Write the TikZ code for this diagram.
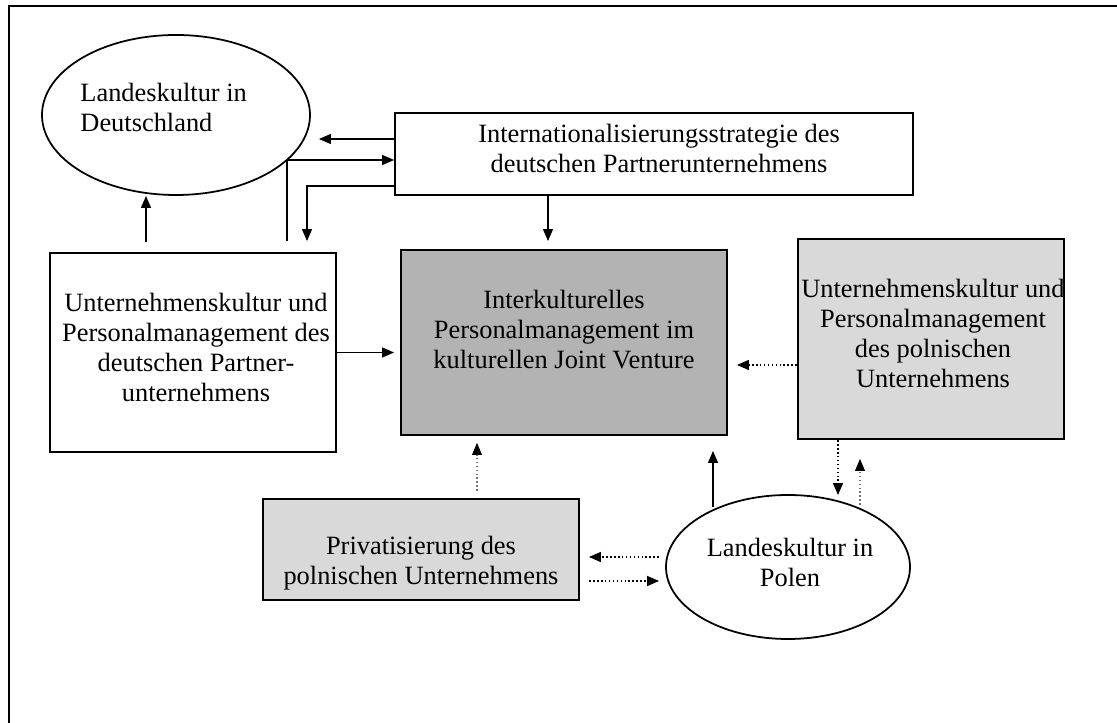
\documentclass[tikz,border=0pt]{standalone}
\usepackage{fontspec}
\setmainfont{Liberation Serif}
\usetikzlibrary{arrows.meta,positioning,shapes.geometric}

\newcommand{\pix}{0.4545pt}
\definecolor{jvgray}{RGB}{179,179,179}
\definecolor{plgray}{RGB}{217,217,217}

\tikzset{
	box/.style = {draw, line width=0.8pt, rectangle, inner sep=0pt},
	kultur/.style = {draw, line width=0.8pt, ellipse, inner sep=0pt},
	txt/.style = {align=center, inner sep=0pt, font=\fontsize{12pt}{13.64pt}\selectfont},
	arr/.style = {line width=0.8pt, -{Triangle[length=5.5pt,width=4.5pt,color=black]}},
	darr/.style = {arr, densely dotted},
	farr/.style = {arr, densely dotted, line width=0.5pt, draw=black!55}
}

\begin{document}
\begin{tikzpicture}[x=\pix, y=-\pix]
			\useasboundingbox (0,0) rectangle (1117,723);
			\draw[line width=0.9pt] (9,723) -- (9,6) -- (1117,6);
			
			\node[kultur, minimum width=268*\pix, minimum height=160*\pix] (deEll) at (176,115) {};
			\node[txt, align=left, anchor=west] (deEllText) at (80,107) {Landeskultur in\\Deutschland};
			
			\node[box, minimum width=518*\pix, minimum height=82*\pix] (intlBox) at (654,154) {};
			\node[txt] (intlText) at (659,148) {Internationalisierungsstrategie des\\deutschen Partnerunternehmens};
			
			\node[box, minimum width=286*\pix, minimum height=199*\pix] (deBox) at (193,352.5) {};
			\node[txt] (deText) at (196,347) {Unternehmenskultur und\\Personalmanagement des\\deutschen Partner-\\unternehmens};
			
			\node[box, fill=jvgray, minimum width=326*\pix, minimum height=185*\pix] (jvBox) at (564,342.5) {};
			\node[txt] (jvText) at (564,330) {Interkulturelles\\Personalmanagement im\\kulturellen Joint Venture};
			
			\node[box, fill=plgray, minimum width=266*\pix, minimum height=200*\pix] (plBox) at (931,339) {};
			\node[txt] (plText) at (933,333) {Unternehmenskultur und\\Personalmanagement\\des polnischen\\Unternehmens};
			
			\node[box, fill=plgray, minimum width=316*\pix, minimum height=101*\pix] (privBox) at (421,549.5) {};
			\node[txt] (privText) at (421,563) {Privatisierung des\\polnischen Unternehmens};
			
			\node[kultur, minimum width=244*\pix, minimum height=144*\pix] (plEll) at (788,567) {};
			\node[txt] (plEllText) at (790,562) {Landeskultur in\\Polen};
			
			% deutsche Seite
			\draw[arr] ([xshift=-47*\pix,yshift=10*\pix]deBox.north) -- ([xshift=-30*\pix]deEll.south);
			\draw[arr] ([yshift=15*\pix]intlBox.west) -- ([xshift=8*\pix,yshift=-24*\pix]deEll.east);
			\draw[arr] ([xshift=94*\pix,yshift=11*\pix]deBox.north) |- ([yshift=-6*\pix]intlBox.west);
			\draw[arr] ([yshift=-32*\pix]intlBox.west) -| ([xshift=114*\pix,yshift=11*\pix]deBox.north);
			\draw[arr] ([xshift=-106*\pix]intlBox.south) -- ([xshift=-16*\pix,yshift=8*\pix]jvBox.north);
			\draw[arr, shorten >=6*\pix] (deBox.east) -- (deBox.east -| jvBox.west);
			
			% polnische Seite
			\draw[darr] ([yshift=-26*\pix]plBox.west) -- ([xshift=9*\pix,yshift=-22.5*\pix]jvBox.east);
			\draw[farr] ([xshift=56*\pix,yshift=7*\pix]privBox.north) -- ([xshift=-87*\pix,yshift=-7*\pix]jvBox.south);
			\draw[arr] ([xshift=-75*\pix,yshift=-13*\pix]plEll.north) -- ([xshift=149*\pix,yshift=-15*\pix]jvBox.south);
			\draw[darr] ([xshift=-93*\pix]plBox.south) -- ([xshift=50*\pix,yshift=-1*\pix]plEll.north);
			\draw[farr] ([xshift=72*\pix,yshift=-11*\pix]plEll.north) -- ([xshift=-71*\pix,yshift=-19*\pix]plBox.south);
			\draw[darr] ([xshift=-6*\pix,yshift=10*\pix]plEll.west) -- ([xshift=9*\pix,yshift=-7.5*\pix]privBox.east);
			\draw[darr] ([xshift=9*\pix,yshift=-31.5*\pix]privBox.east) -- ([xshift=-6*\pix,yshift=-14*\pix]plEll.west);
			
\end{tikzpicture}
\end{document}
